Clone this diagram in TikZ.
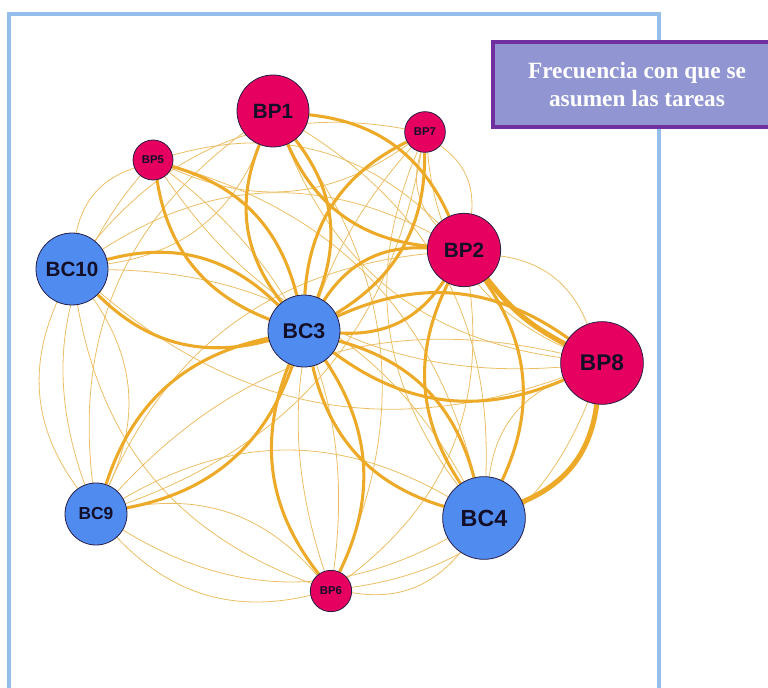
\documentclass[tikz,border=0pt]{standalone}
\usepackage{fontspec}
\setmainfont{Liberation Serif}
\setsansfont{Liberation Sans}
\pgfdeclarelayer{edges}
\pgfsetlayers{edges,main}
\definecolor{framecol}{RGB}{150,190,235}
\definecolor{boxfill}{RGB}{145,150,210}
\definecolor{boxdraw}{RGB}{112,48,160}
\definecolor{bpcol}{RGB}{230,0,95}
\definecolor{bccol}{RGB}{80,140,240}
\definecolor{edgecol}{RGB}{236,170,40}
\definecolor{thincol}{RGB}{236,190,100}
\definecolor{labcol}{RGB}{20,15,40}
\definecolor{rimcol}{RGB}{40,30,70}
\begin{document}
\begin{tikzpicture}[x=0.75pt,y=-0.75pt,
  vert/.style={circle,draw=rimcol,line width=0.6pt,inner sep=0pt,text=labcol},
  fs/.style={font=\sffamily\bfseries\fontsize{#1}{#1}\selectfont},
  bp/.style={vert,fill=bpcol},
  bc/.style={vert,fill=bccol},
  thinedge/.style={draw=thincol,line width=0.6pt},
  thickedge/.style={draw=edgecol,line width=2.3pt},
  heavyedge/.style={draw=edgecol,line width=3.8pt},
  legend/.style={draw=boxdraw,fill=boxfill,line width=2.6pt,text=white,align=center,
    font=\bfseries\fontsize{17.5}{21}\selectfont,minimum width=216pt,minimum height=63.75pt}]
\useasboundingbox (0,0) rectangle (768,688);
% frame
\draw[framecol,line width=3pt] (9,710) -- (9,14) -- (659,14) -- (659,710);
% legend box
\node[legend] (leg) at (637,84.5) {Frecuencia con que se\\asumen las tareas};
% vertices
\node[bp,fs=15.5,minimum size=54pt] (BP1) at (273,111) {BP1};
\node[bp,fs=8.5,minimum size=30.5pt] (BP7) at (425,132) {BP7};
\node[bp,fs=8.5,minimum size=30pt] (BP5) at (153,160) {BP5};
\node[bc,fs=15.5,minimum size=54pt] (BC10) at (72,269) {BC10};
\node[bp,fs=15.5,minimum size=55pt] (BP2) at (464,250) {BP2};
\node[bc,fs=16,minimum size=54pt] (BC3) at (304,331) {BC3};
\node[bp,fs=17,minimum size=62pt] (BP8) at (602,363) {BP8};
\node[bc,fs=17.5,minimum size=62pt] (BC4) at (484,518) {BC4};
\node[bc,fs=13,minimum size=46.5pt] (BC9) at (96,514) {BC9};
\node[bp,fs=8.5,minimum size=31pt] (BP6) at (331,591) {BP6};
\begin{pgfonlayer}{edges}
% thin edges
\foreach \a/\b in {BP1/BC10,BP8/BP1,BP1/BC4,BC9/BP1,BP1/BP6,
  BP7/BP5,BC10/BP7,BP8/BP7,BC4/BP7,BP7/BC9,BP6/BP7,
  BC10/BP5,BP5/BP2,BP8/BP5,BP5/BC4,BC9/BP5,BP5/BP6,
  BC10/BP2,BP8/BC10,BC10/BC4,BP6/BC10,
  BC9/BP2,BP2/BP6,BC9/BP8,BP8/BP6,
  BC10/BC9,BC9/BC10,BC9/BP6,BP6/BC9,BP7/BP2,BP2/BP7,
  BC9/BC4,BC4/BC9,BC4/BP6,BP2/BP8,BC4/BP8}{
  \path[thinedge] (\a) to[bend left=30] (\b);
}
% thick edges, both directions
\foreach \a/\b in {BC3/BP1,BC3/BP5,BC3/BP7,BC3/BP2,BC3/BP8,BC3/BC4,BC3/BP6,
  BC3/BC9,BC3/BC10,BP1/BP2,BP2/BC4}{
  \path[thickedge] (\a) to[bend left=30] (\b);
  \path[thickedge] (\b) to[bend left=30] (\a);
}
\path[heavyedge] (BP8) to[bend left=30] (BC4);
\path[heavyedge] (BP8) to[bend left=12] (BP2);
\end{pgfonlayer}
\end{tikzpicture}
\end{document}
